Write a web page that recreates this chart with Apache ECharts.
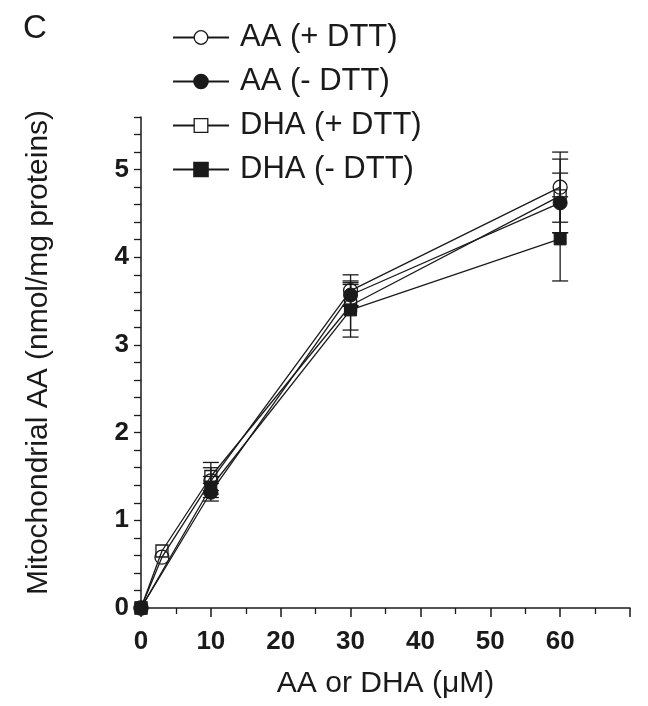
<!DOCTYPE html>
<html>
<head>
<meta charset="utf-8">
<script src="https://cdn.jsdelivr.net/npm/echarts@6/dist/echarts.min.js"></script>
<style>
html,body{margin:0;padding:0;background:#fff;}
#chart{width:648px;height:706px;}
</style>
</head>
<body>
<div id="chart"></div>
<script>
// ---- data ----
const seriesNames = ['AA (+ DTT)', 'AA (- DTT)', 'DHA (+ DTT)', 'DHA (- DTT)'];
const xPlus = [0, 3, 10, 30, 60];
const xMinus = [0, 10, 30, 60];
const aaPlus = [0, 0.58, 1.45, 3.62, 4.80];
const aaPlusErr = [0, 0, 0.15, 0.18, 0.40];
const aaMinus = [0, 1.32, 3.57, 4.62];
const aaMinusErr = [0, 0.10, 0.12, 0.34];
const dhaPlus = [0, 0.65, 1.50, 3.45, 4.70];
const dhaPlusErr = [0, 0, 0.16, 0.28, 0.42];
const dhaMinus = [0, 1.38, 3.40, 4.21];
const dhaMinusErr = [0, 0.12, 0.31, 0.48];
const xTickLabels = ['0', '10', '20', '30', '40', '50', '60'];
const yTickLabels = ['0', '1', '2', '3', '4', '5'];

const FONT = '"Liberation Sans", Arial, sans-serif';
const INK = '#1a1a1a';

function pairs(xs, ys) { return xs.map((x, i) => [x, ys[i]]); }
function errData(xs, ys, es) {
  const out = [];
  xs.forEach((x, i) => { if (es[i] > 0) out.push([x, ys[i] - es[i], ys[i] + es[i]]); });
  return out;
}

const groups = [
  { name: seriesNames[0], x: xPlus, y: aaPlus, e: aaPlusErr, symbol: 'circle', size: 14, open: true },
  { name: seriesNames[1], x: xMinus, y: aaMinus, e: aaMinusErr, symbol: 'circle', size: 14, open: false },
  { name: seriesNames[2], x: xPlus, y: dhaPlus, e: dhaPlusErr, symbol: 'rect', size: 12, open: true },
  { name: seriesNames[3], x: xMinus, y: dhaMinus, e: dhaMinusErr, symbol: 'rect', size: 12, open: false }
];

let errAll = [];
groups.forEach(g => { errAll = errAll.concat(errData(g.x, g.y, g.e)); });

const series = [{
  type: 'custom',
  z: 1,
  silent: true,
  data: errAll,
  renderItem: function (params, api) {
    const x = api.value(0), lo = api.value(1), hi = api.value(2);
    const a = api.coord([x, lo]), b = api.coord([x, hi]);
    const w = 8;
    const st = { stroke: INK, lineWidth: 1.3 };
    return {
      type: 'group',
      children: [
        { type: 'line', shape: { x1: a[0], y1: a[1], x2: b[0], y2: b[1] }, style: st },
        { type: 'line', shape: { x1: a[0] - w, y1: a[1], x2: a[0] + w, y2: a[1] }, style: st },
        { type: 'line', shape: { x1: b[0] - w, y1: b[1], x2: b[0] + w, y2: b[1] }, style: st }
      ]
    };
  }
}];

groups.forEach(g => {
  series.push({
    name: g.name,
    type: 'line',
    z: 2,
    data: pairs(g.x, g.y),
    symbol: g.symbol,
    symbolSize: g.size,
    showAllSymbol: true,
    clip: false,
    lineStyle: { color: INK, width: 1.3 },
    itemStyle: g.open
      ? { color: 'rgba(255,255,255,0)', borderColor: INK, borderWidth: 1.3 }
      : { color: INK, borderColor: INK, borderWidth: 1 },
    emphasis: { disabled: true }
  });
});

const chart = echarts.init(document.getElementById('chart'), null, { renderer: 'canvas' });
chart.setOption({
  animation: false,
  backgroundColor: '#fff',
  grid: { left: 141, right: 18, top: 117, bottom: 98, containLabel: false },
  legend: {
    orient: 'vertical',
    left: 172,
    top: 22,
    padding: 0,
    itemWidth: 56,
    itemHeight: 17,
    itemGap: 13,
    selectedMode: false,
    data: groups.map(g => g.open
      ? { name: g.name, itemStyle: { color: '#fff', borderColor: INK, borderWidth: 1.3 } }
      : { name: g.name }),
    textStyle: { fontFamily: FONT, fontSize: 31, color: INK, lineHeight: 31, padding: [0, 0, 0, 6] }
  },
  graphic: [{
    type: 'text', left: 23, top: 12,
    style: { text: 'C', fontFamily: FONT, fontSize: 33, fill: INK }
  }],
  xAxis: {
    type: 'value',
    min: 0, max: 70, interval: 10,
    name: 'AA or DHA (\u03bcM)',
    nameLocation: 'middle',
    nameGap: 61,
    nameTextStyle: { fontFamily: FONT, fontSize: 30, color: INK },
    axisLine: { show: true, onZero: false, lineStyle: { color: INK, width: 1.5 } },
    axisTick: { show: true, length: 9, lineStyle: { color: INK, width: 1.5 } },
    minorTick: { show: true, splitNumber: 2, length: 6, lineStyle: { color: INK, width: 1.3 } },
    splitLine: { show: false },
    axisLabel: {
      fontFamily: FONT, fontSize: 26, fontWeight: 'bold', color: INK, margin: 21,
      formatter: function (v) { const s = String(Math.round(v)); return xTickLabels.indexOf(s) >= 0 && Math.abs(v - Math.round(v)) < 1e-6 ? s : ''; }
    }
  },
  yAxis: {
    type: 'value',
    min: 0, max: 5.6, interval: 0.2,
    name: 'Mitochondrial AA (nmol/mg proteins)',
    nameLocation: 'middle',
    nameGap: 87,
    nameTextStyle: { fontFamily: FONT, fontSize: 30, color: INK, padding: [0, 0, 0, 20] },
    axisLine: { show: true, onZero: false, lineStyle: { color: INK, width: 1.5 } },
    axisTick: { show: true, length: 7, lineStyle: { color: INK, width: 1.3 } },
    splitLine: { show: false },
    axisLabel: {
      fontFamily: FONT, fontSize: 26, fontWeight: 'bold', color: INK, margin: 12,
      formatter: function (v) {
        const r = Math.round(v);
        if (Math.abs(v - r) > 1e-6) return '';
        const s = String(r);
        return yTickLabels.indexOf(s) >= 0 ? s : '';
      }
    }
  },
  series: series
});
</script>
</body>
</html>
